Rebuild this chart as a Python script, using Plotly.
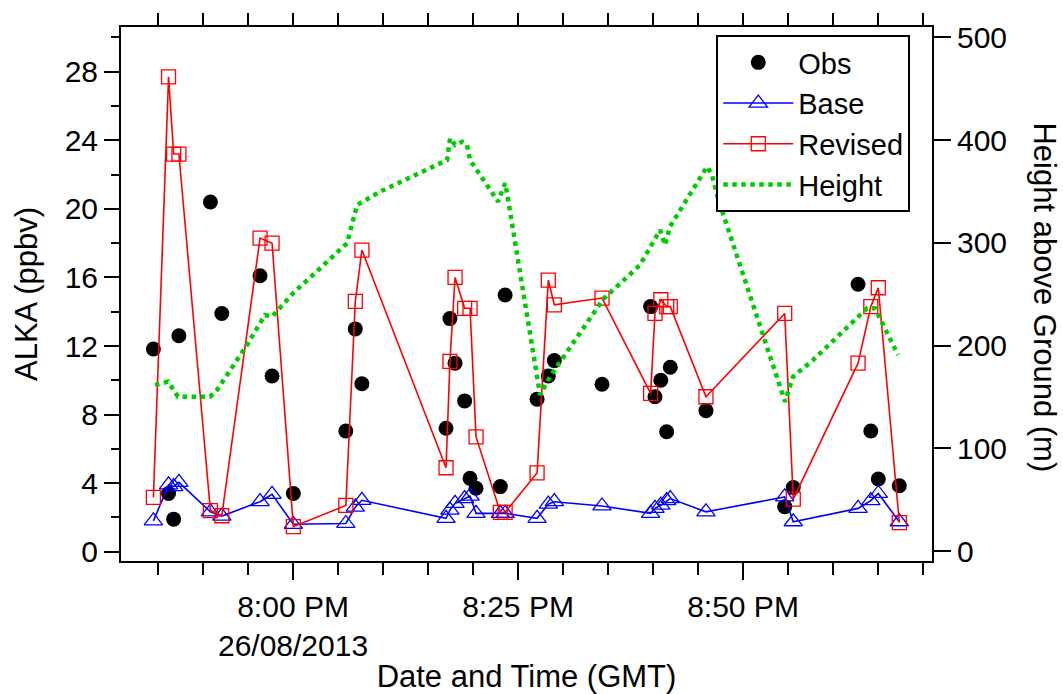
import plotly.graph_objects as go

DAY = "2013-08-26 "

# sample times (GMT) shared by Obs, Base and Revised
times = ["19:44:29", "19:46:10", "19:46:44", "19:47:19", "19:50:49", "19:52:05",
         "19:56:20", "19:57:40", "20:00:02", "20:05:52", "20:06:55", "20:07:39",
         "20:17:00", "20:17:26", "20:18:00", "20:19:04", "20:19:40", "20:20:20",
         "20:23:02", "20:23:34", "20:27:07", "20:28:22", "20:29:02", "20:34:20",
         "20:39:44", "20:40:13", "20:40:52", "20:41:31", "20:41:55", "20:45:53",
         "20:54:38", "20:55:35", "21:02:47", "21:04:12", "21:05:02", "21:07:22"]

obs = [11.83, 3.4, 1.9, 12.6, 20.4, 13.9, 16.1, 10.25, 3.4, 7.04, 13.0, 9.8,
       7.2, 13.6, 11.0, 8.8, 4.28, 3.7, 3.8, 14.98, 8.9, 10.25, 11.15, 9.77,
       14.3, 9.04, 10.0, 7.0, 10.76, 8.23, 2.63, 3.75, 15.6, 7.04, 4.24, 3.85]

base = [1.8, 3.9, 3.8, 4.05, 2.33, 2.08, 2.92, 3.35, 1.6, 1.65, 2.6, 3.0,
        1.95, 2.43, 2.82, 3.1, 3.25, 2.24, 2.24, 2.24, 1.95, 2.78, 2.92, 2.67,
        2.24, 2.53, 2.72, 2.98, 3.1, 2.33, 3.2, 1.75, 2.53, 2.98, 3.4, 1.75]

revised = [3.17, 27.7, 23.2, 23.2, 2.4, 2.1, 18.3, 18.0, 1.46, 2.7, 14.6, 17.6,
           4.9, 11.1, 16.0, 14.2, 14.2, 6.7, 2.3, 2.3, 4.6, 15.85, 14.4, 14.8,
           9.24, 13.9, 14.7, 14.3, 14.3, 9.04, 13.9, 3.07, 11.0, 14.3, 15.4, 1.7]

# height above ground (m)
h_times = ["19:44:40", "19:46:07", "19:47:13", "19:50:47", "19:51:33", "19:54:53",
           "19:56:53", "19:57:40", "20:00:00", "20:06:00", "20:07:07", "20:09:40",
           "20:17:07", "20:17:27", "20:18:00", "20:18:47", "20:19:20", "20:19:40",
           "20:22:47", "20:23:13", "20:23:33", "20:23:47", "20:25:27", "20:27:27",
           "20:28:33", "20:34:27", "20:38:33", "20:40:47", "20:41:20", "20:41:53",
           "20:46:00", "20:46:33", "20:47:13", "20:50:47", "20:54:40", "20:55:33",
           "20:57:47", "21:03:47", "21:04:40", "21:07:13"]
height = [161.6, 164.8, 150.2, 150.2, 156.7, 200.5, 229.7, 228.0, 250.8, 299.5,
          336.7, 349.7, 380.5, 401.7, 395.1, 398.3, 395.1, 380.5, 340.0, 349.7,
          357.9, 348.1, 256.0, 152.0, 169.6, 245.0, 278.3, 312.4, 297.8, 315.6,
          374.0, 366.0, 343.3, 247.5, 145.3, 169.6, 185.9, 236.2, 236.2, 190.8]

x_tickvals = ["20:00:00", "20:25:00", "20:50:00"]
x_ticktext = ["8:00 PM<br>26/08/2013", "8:25 PM", "8:50 PM"]
x_range = ["19:40:53", "21:11:00"]

t = [DAY + s for s in times]
ht = [DAY + s for s in h_times]
xr = [DAY + s for s in x_range]

FONT = "Liberation Sans, Arial, sans-serif"

fig = go.Figure()
fig.add_trace(go.Scatter(x=t, y=obs, mode="markers", name="Obs",
                         marker=dict(symbol="circle", size=15, color="black")))
fig.add_trace(go.Scatter(x=t, y=base, mode="lines+markers", name="Base",
                         line=dict(color="#0000FF", width=1.6),
                         marker=dict(symbol="triangle-up-open", size=16, color="#0000FF",
                                     line=dict(width=1.3, color="#0000FF"))))
fig.add_trace(go.Scatter(x=t, y=revised, mode="lines+markers", name="Revised",
                         line=dict(color="#FF0000", width=1.6),
                         marker=dict(symbol="square-open", size=14, color="#FF0000",
                                     line=dict(width=1.3, color="#FF0000"))))
fig.add_trace(go.Scatter(x=ht, y=height, mode="lines", name="Height", yaxis="y2",
                         line=dict(color="#00CC00", width=4.5, dash="dot")))
# carrier for the top tick axis
fig.add_trace(go.Scatter(x=[], y=[], xaxis="x2", showlegend=False, hoverinfo="skip"))

fig.update_layout(
    width=1063, height=694,
    margin=dict(l=121, r=131, t=27, b=133),
    paper_bgcolor="white", plot_bgcolor="white",
    font=dict(family=FONT, size=30, color="black"),
    showlegend=True,
    legend=dict(x=0.734, y=0.985, xanchor="left", yanchor="top",
                bordercolor="black", borderwidth=2, bgcolor="white",
                font=dict(size=29), itemwidth=70, tracegroupgap=0),
    xaxis=dict(type="date", range=xr, showgrid=False, zeroline=False, automargin=False,
               showline=True, linecolor="black", linewidth=2,
               tickmode="array", tickvals=[DAY + s for s in x_tickvals],
               ticktext=x_ticktext, ticks="outside", ticklen=17, tickwidth=2,
               tickcolor="black", ticklabelstandoff=1,
               minor=dict(ticks="outside", ticklen=12, tickwidth=2, tickcolor="black",
                          dtick=300000, tick0=DAY + "19:45:00", showgrid=False),
               title=dict(text="Date and Time (GMT)", font=dict(size=31), standoff=6)),
    xaxis2=dict(type="date", range=xr, overlaying="x", side="top", showgrid=False,
                zeroline=False, showline=True, linecolor="black", linewidth=2,
                automargin=False,
                tickmode="linear", tick0=DAY + "19:45:00", dtick=300000,
                ticks="outside", ticklen=12, tickwidth=2, tickcolor="black",
                showticklabels=False),
    yaxis=dict(range=[-0.54, 30.61], showgrid=False, zeroline=False, automargin=False,
               showline=True, linecolor="black", linewidth=2, mirror=True,
               tickmode="array", tickvals=list(range(0, 29, 4)),
               ticks="outside", ticklen=15, tickwidth=2, tickcolor="black",
               minor=dict(ticks="outside", ticklen=8, tickwidth=2, tickcolor="black",
                          dtick=2, tick0=0, showgrid=False),
               title=dict(text="ALKA (ppbv)", font=dict(size=31), standoff=18)),
    yaxis2=dict(range=[-9.73, 509.97], overlaying="y", side="right", showgrid=False,
                zeroline=False, showline=True, linecolor="black", linewidth=2,
                automargin=False,
                tickmode="array", tickvals=list(range(0, 501, 100)),
                ticks="outside", ticklen=17, tickwidth=2, tickcolor="black"),
    annotations=[dict(text="Height above Ground (m)", textangle=90,
                      x=1.139, y=0.494, xref="paper", yref="paper",
                      xanchor="center", yanchor="middle",
                      showarrow=False, font=dict(size=31, family=FONT))],
)

fig.write_html("out.html")
